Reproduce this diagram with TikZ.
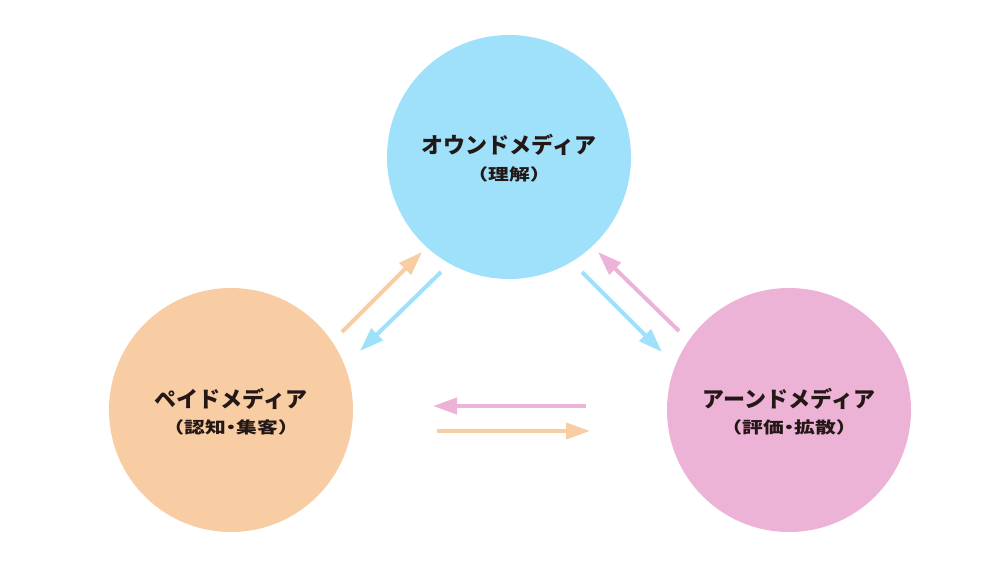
\documentclass[tikz,border=0pt]{standalone}
\usepackage{graphicx}
\usepackage{fontspec}
\newfontfamily\cjk{Noto Sans CJK JP}
\usetikzlibrary{arrows.meta}
\definecolor{cblue}{HTML}{9FE1FA}
\definecolor{corange}{HTML}{F8CDA4}
\definecolor{cpink}{HTML}{EDB3D6}
\definecolor{ctext}{HTML}{231815}
\newcommand{\subtxt}[1]{\scalebox{1.3}[1]{#1}}
\newcommand{\ndot}{\kern-0.25em・\kern-0.25em}
\tikzset{
  media/.style={circle, minimum size=244pt, inner sep=0pt},
  title/.style={font=\cjk\bfseries\fontsize{22}{24}\selectfont, text=ctext, inner sep=0pt},
  sub/.style={font=\cjk\bfseries\fontsize{16}{18}\selectfont, text=ctext, inner sep=0pt},
  flow/.style={line width=4pt, -{Triangle[length=24pt,width=16pt]}},
}
\begin{document}
\begin{tikzpicture}[x=1pt,y=-1pt]
\useasboundingbox[fill=white] (0,0) rectangle (1000,563);
\node[media, fill=cblue] (owned) at (509,157) {};
\node[media, fill=corange] (paid) at (231,410) {};
\node[media, fill=cpink] (earned) at (789,410) {};
\node[title] (t1) at (509,145) {オウンドメディア};
\node[sub] (s1) at (509,174) {\subtxt{（理解）}};
\node[title] (t2) at (231,399) {ペイドメディア};
\node[sub] (s2) at (231,427) {\subtxt{（認知\ndot 集客）}};
\node[title] (t3) at (789,399) {アーンドメディア};
\node[sub] (s3) at (789,427) {\subtxt{（評価\ndot 拡散）}};
\coordinate (a1s) at (342,332); \coordinate (a1e) at (422,252);
\coordinate (a2s) at (441,272); \coordinate (a2e) at (360,351);
\coordinate (a3s) at (679,331); \coordinate (a3e) at (598,252);
\coordinate (a4s) at (582,272); \coordinate (a4e) at (662,352);
\coordinate (a5s) at (586,406); \coordinate (a5e) at (433,406);
\coordinate (a6s) at (437,431); \coordinate (a6e) at (590,431);
\draw[flow, draw=corange] (a1s) -- (a1e);
\draw[flow, draw=cblue] (a2s) -- (a2e);
\draw[flow, draw=cpink] (a3s) -- (a3e);
\draw[flow, draw=cblue] (a4s) -- (a4e);
\draw[flow, draw=cpink] (a5s) -- (a5e);
\draw[flow, draw=corange] (a6s) -- (a6e);
\end{tikzpicture}
\end{document}
